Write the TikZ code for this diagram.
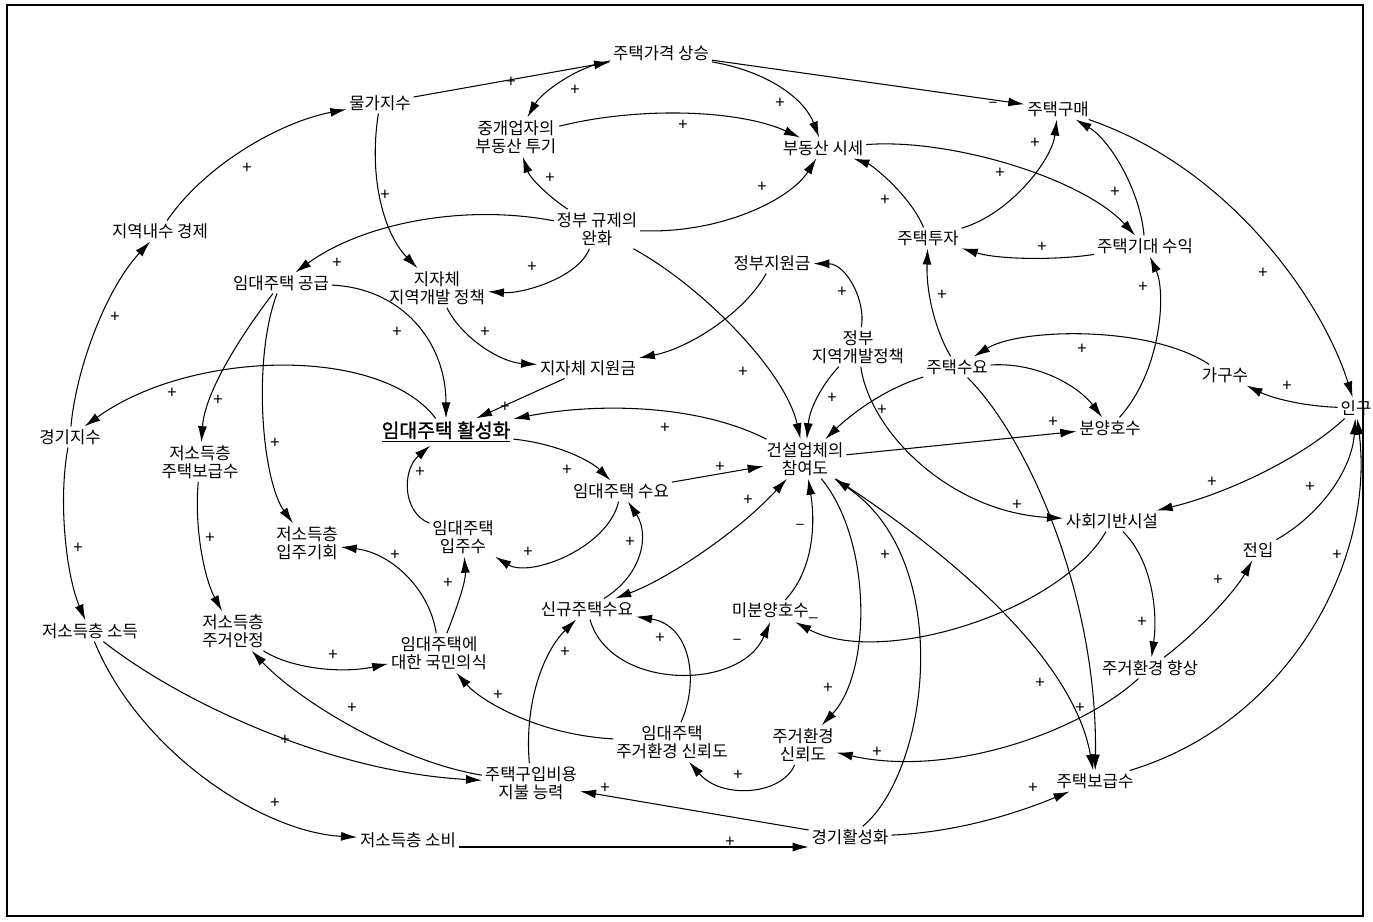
\documentclass[tikz,border=0pt]{standalone}
\usepackage{fontspec}
\newfontfamily\kr{Noto Sans CJK KR}
\newfontfamily\krb{Noto Sans CJK KR}[FakeBold=1.3]
\usetikzlibrary{arrows.meta}
\begin{document}
\begin{tikzpicture}[x=0.02cm, y=-0.02cm,
  >={Latex[length=3.2mm,width=1.8mm]},
  var/.style={font=\kr\fontsize{9.5}{10.5}\selectfont, align=center, inner sep=1.5pt},
  keyvar/.style={font=\krb\fontsize{11}{13}\selectfont, inner sep=1.5pt},
  lnk/.style={->, line width=0.6pt},
  pol/.style={font=\kr\fontsize{9.5}{10}\selectfont, inner sep=0pt}]
  \useasboundingbox (0,0) rectangle (1373,922);
  \draw[line width=0.6pt] (7,5) rectangle (1363,916);

  \node[var] (hpr) at (661,53) {주택가격 상승};
  \node[var] (cpi) at (380,103) {물가지수};
  \node[var] (broker) at (516,137) {중개업자의\\부동산 투기};
  \node[var] (mkt) at (823,148) {부동산 시세};
  \node[var] (buy) at (1058,109) {주택구매};
  \node[var] (econ) at (160,231) {지역내수 경제};
  \node[var] (dereg) at (597,229) {정부 규제의\\완화};
  \node[var] (inv) at (928,238) {주택투자};
  \node[var] (ret) at (1145,246) {주택기대 수익};
  \node[var] (rsup) at (281,283) {임대주택 공급};
  \node[var] (lpol) at (437,288) {지자체\\지역개발 정책};
  \node[var] (gsub) at (772,263) {정부지원금};
  \node[var] (lsub) at (588,368) {지자체 지원금};
  \node[var] (gpol) at (858,347) {정부\\지역개발정책};
  \node[var] (hdem) at (957,367) {주택수요};
  \node[var] (hh) at (1225,375) {가구수};
  \node[var] (pop) at (1356,408) {인구};
  \node[var] (eidx) at (70,437) {경기지수};
  \node[keyvar] (act) at (446,432) {\underline{임대주택 활성화}};
  \node[var] (cons) at (805,459) {건설업체의\\참여도};
  \node[var] (presale) at (1110,428) {분양호수};
  \node[var] (lsupply) at (200,462) {저소득층\\주택보급수};
  \node[var] (rdem) at (621,491) {임대주택 수요};
  \node[var] (lopp) at (307,543) {저소득층\\입주기회};
  \node[var] (rocc) at (463,537) {임대주택\\입주수};
  \node[var] (infra) at (1112,521) {사회기반시설};
  \node[var] (movein) at (1258,550) {전입};
  \node[var] (linc) at (90,631) {저소득층 소득};
  \node[var] (lstab) at (233,631) {저소득층\\주거안정};
  \node[var] (newdem) at (587,609) {신규주택수요};
  \node[var] (unsold) at (775,611) {미분양호수\_};
  \node[var] (percep) at (439,653) {임대주택에\\대한 국민의식};
  \node[var] (envup) at (1150,668) {주거환경 향상};
  \node[var] (rtrust) at (672,742) {임대주택\\주거환경 신뢰도};
  \node[var] (trust) at (803,745) {주거환경\\신뢰도};
  \node[var] (afford) at (531,783) {주택구입비용\\지불 능력};
  \node[var] (hsup) at (1095,781) {주택보급수};
  \node[var] (lcons) at (408,840) {저소득층 소비};
  \node[var] (boom) at (850,837) {경기활성화};

  \draw[lnk] (cpi) -- (hpr);
  \draw[lnk] (hpr) .. controls (578,66) and (542,92) .. (broker);
  \draw[lnk] (hpr) .. controls (770,72) and (805,100) .. (mkt);
  \draw[lnk] (hpr) -- (buy);
  \draw[lnk] (broker) .. controls (640,106) and (740,110) .. (mkt);
  \draw[lnk] (dereg) .. controls (548,196) and (530,178) .. (broker);
  \draw[lnk] (dereg) .. controls (720,234) and (790,200) .. (mkt);
  \draw[lnk] (dereg) .. controls (460,203) and (360,225) .. (rsup);
  \draw[lnk] (dereg) .. controls (578,278) and (522,294) .. (lpol);
  \draw[lnk] (dereg) .. controls (700,285) and (785,370) .. (cons);
  \draw[lnk] (cpi) .. controls (368,180) and (385,235) .. (lpol);
  \draw[lnk] (econ) .. controls (205,165) and (280,122) .. (cpi);
  \draw[lnk] (eidx) .. controls (76,370) and (105,290) .. (econ);
  \draw[lnk] (eidx) .. controls (58,500) and (66,575) .. (linc);
  \draw[lnk] (act) .. controls (380,345) and (190,350) .. (eidx);
  \draw[lnk] (rsup) .. controls (245,330) and (205,390) .. (lsupply);
  \draw[lnk] (rsup) .. controls (252,360) and (262,480) .. (lopp);
  \draw[lnk] (rsup) .. controls (400,288) and (446,340) .. (act);
  \draw[lnk] (lpol) .. controls (462,338) and (500,362) .. (lsub);
  \draw[lnk] (gsub) .. controls (745,312) and (690,348) .. (lsub);
  \draw[lnk] (lsub) -- (act);
  \draw[lnk] (cons) .. controls (700,405) and (600,402) .. (act);
  \draw[lnk] (act) .. controls (560,444) and (592,462) .. (rdem);
  \draw[lnk] (rdem) -- (cons);
  \draw[lnk] (rdem) .. controls (608,548) and (530,578) .. (rocc);
  \draw[lnk] (rocc) .. controls (402,512) and (402,470) .. (act);
  \draw[lnk] (newdem) .. controls (642,575) and (650,535) .. (rdem);
  \draw[lnk, <->] (newdem) .. controls (670,578) and (740,530) .. (cons);
  \draw[lnk] (newdem) .. controls (610,690) and (740,692) .. (unsold);
  \draw[lnk] (unsold) .. controls (815,568) and (815,520) .. (cons);
  \draw[lnk] (infra) .. controls (1060,612) and (880,668) .. (unsold);
  \draw[lnk] (pop) .. controls (1300,460) and (1222,495) .. (infra);
  \draw[lnk] (pop) .. controls (1302,406) and (1272,398) .. (hh);
  \draw[lnk] (hh) .. controls (1150,325) and (1020,328) .. (hdem);
  \draw[lnk] (hdem) .. controls (1040,362) and (1080,388) .. (presale);
  \draw[lnk] (cons) -- (presale);
  \draw[lnk] (presale) .. controls (1162,370) and (1166,292) .. (ret);
  \draw[lnk] (hdem) .. controls (880,390) and (845,420) .. (cons);
  \draw[lnk] (hdem) .. controls (1030,440) and (1098,600) .. (hsup);
  \draw[lnk] (cons) .. controls (930,540) and (1072,650) .. (hsup);
  \draw[lnk] (cons) .. controls (872,540) and (872,672) .. (trust);
  \draw[lnk] (boom) .. controls (930,770) and (955,560) .. (cons);
  \draw[lnk] (rtrust) .. controls (700,680) and (690,625) .. (newdem);
  \draw[lnk] (trust) .. controls (782,795) and (722,800) .. (rtrust);
  \draw[lnk] (rtrust) .. controls (540,735) and (482,702) .. (percep);
  \draw[lnk] (afford) .. controls (524,700) and (545,650) .. (newdem);
  \draw[lnk] (boom) -- (afford);
  \draw[lnk] (lcons.east |- 0,847) -- (boom.west |- 0,847);
  \draw[lnk] (linc) .. controls (140,752) and (262,832) .. (lcons);
  \draw[lnk] (linc) .. controls (180,702) and (330,772) .. (afford);
  \draw[lnk] (afford) .. controls (400,762) and (300,702) .. (lstab);
  \draw[lnk] (lstab) .. controls (290,668) and (340,674) .. (percep);
  \draw[lnk] (percep) .. controls (430,590) and (392,553) .. (lopp);
  \draw[lnk] (percep) .. controls (456,610) and (466,582) .. (rocc);
  \draw[lnk] (lsupply) .. controls (194,530) and (205,580) .. (lstab);
  \draw[lnk] (gpol) .. controls (866,300) and (846,264) .. (gsub);
  \draw[lnk] (gpol) .. controls (870,432) and (950,512) .. (infra);
  \draw[lnk] (gpol) .. controls (826,380) and (810,405) .. (cons);
  \draw[lnk] (inv) .. controls (910,195) and (872,165) .. (mkt);
  \draw[lnk] (inv) .. controls (1010,214) and (1052,160) .. (buy);
  \draw[lnk] (mkt) .. controls (950,138) and (1082,178) .. (ret);
  \draw[lnk] (ret) .. controls (1140,190) and (1110,140) .. (buy);
  \draw[lnk] (ret) .. controls (1060,260) and (1000,260) .. (inv);
  \draw[lnk] (buy) .. controls (1230,168) and (1322,300) .. (pop);
  \draw[lnk] (hdem) .. controls (935,330) and (926,292) .. (inv);
  \draw[lnk] (hsup) .. controls (1290,722) and (1375,560) .. (pop);
  \draw[lnk] (movein) .. controls (1320,515) and (1352,470) .. (pop);
  \draw[lnk] (envup) .. controls (1200,630) and (1236,590) .. (movein);
  \draw[lnk] (envup) .. controls (1080,732) and (950,778) .. (trust);
  \draw[lnk] (infra) .. controls (1152,560) and (1158,612) .. (envup);
  \draw[lnk] (boom) .. controls (960,832) and (1020,812) .. (hsup);

  \foreach \px/\py [count=\i] in {511/82, 575/90, 780/103, 683/125, 550/178, 762/187,
      337/263, 532/267, 743/372, 385/195, 247/168, 115/317, 78/548, 172/393, 218/400,
      275/443, 397/332, 485/332, 505/407, 665/428, 567/470, 720/467, 528/552, 420/472,
      630/542, 748/500, 1212/482, 1287/386, 1082/349, 1053/422, 1143/287, 882/410,
      1080/708, 1040/683, 828/688, 885/555, 660/638, 738/775, 498/695, 565/652,
      605/788, 730/842, 275/803, 285/740, 352/708, 333/655, 395/555, 448/583, 210/538,
      842/292, 1017/505, 832/398, 885/200, 1035/143, 1000/173, 1115/192, 1042/247,
      1263/273, 942/295, 1337/555, 1310/487, 1218/580, 877/752, 1142/622, 1033/788}
    \node[pol] (plus\i) at (\px,\py) {+};
  \foreach \px/\py [count=\i] in {993/105, 737/642, 800/527}
    \node[pol] (minus\i) at (\px,\py) {–};
\end{tikzpicture}
\end{document}
